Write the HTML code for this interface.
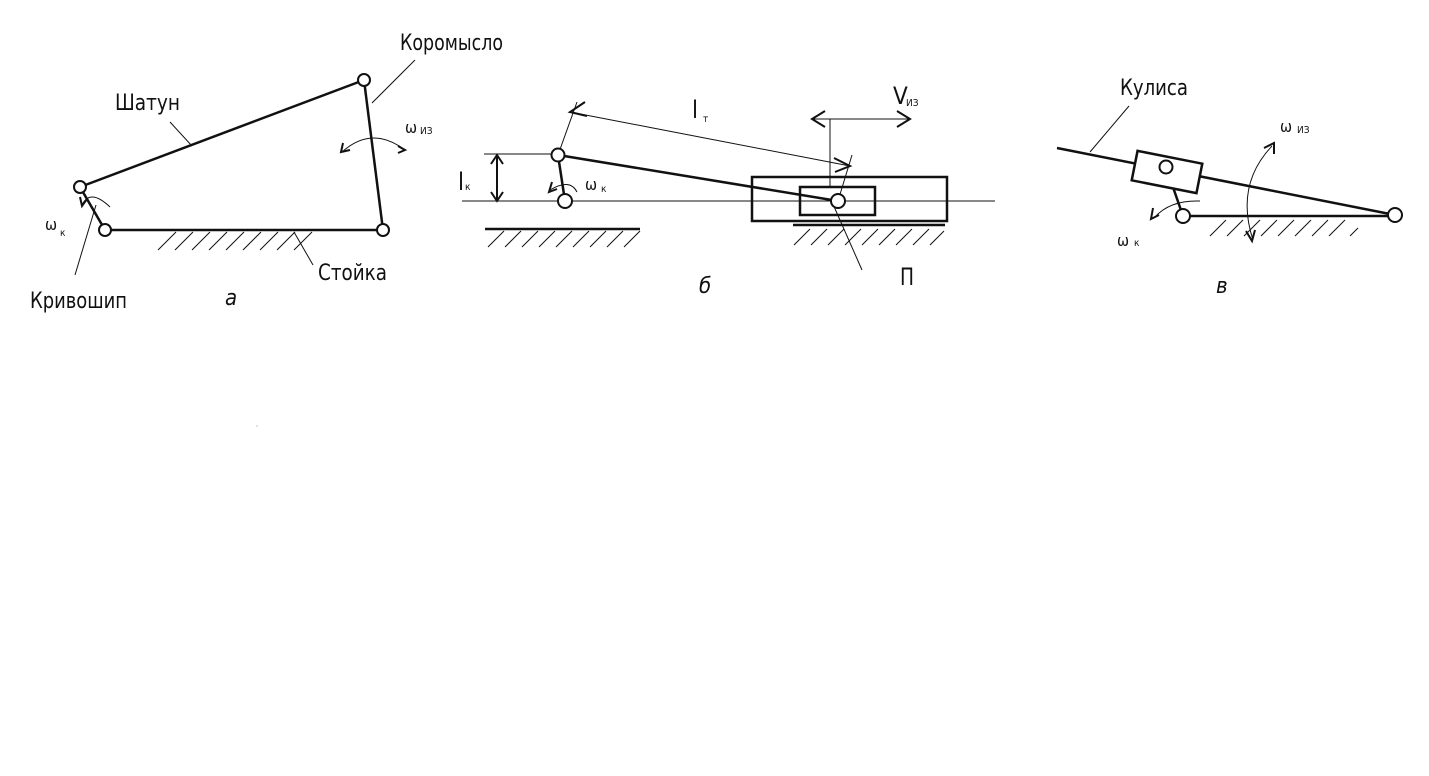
<!DOCTYPE html>
<html><head><meta charset="utf-8"><style>
body{margin:0;background:#fff;width:1429px;height:771px;overflow:hidden}
svg text{font-family:"DejaVu Sans Condensed","Liberation Sans Narrow","Liberation Sans",sans-serif;fill:#111}
</style></head><body>
<svg width="1429" height="771" viewBox="0 0 1429 771" xmlns="http://www.w3.org/2000/svg">
<g stroke="#111" fill="none" stroke-width="2.5">
<line x1="105" y1="230" x2="383" y2="230"/>
<line x1="80" y1="187" x2="364" y2="80"/>
<line x1="364" y1="80" x2="383" y2="230"/>
<line x1="80" y1="187" x2="105" y2="230"/>
</g>
<g stroke="#111" fill="none" stroke-width="1">
<path d="M158,250 l18,-18 M175,250 l18,-18 M192,250 l18,-18 M209,250 l18,-18 M226,250 l18,-18 M243,250 l18,-18 M260,250 l18,-18 M277,250 l18,-18 M294,250 l18,-18"/>
<line x1="415" y1="60" x2="372" y2="103"/>
<line x1="170" y1="122" x2="192" y2="146"/>
<line x1="75" y1="275" x2="96" y2="205"/>
<line x1="313" y1="265" x2="294" y2="232"/>
<path d="M342,152 Q372,125 405,150"/>
<path d="M82,205 Q90,188 110,207"/>
</g>
<g stroke="#111" fill="none" stroke-width="2">
<path d="M343,143 l-2,9 l9,-2"/>
<path d="M398,146 l7,4 l-7,3"/>
<path d="M80,197 l2,9 l5,-7"/>
</g>
<g fill="#fff" stroke="#111" stroke-width="2">
<circle cx="105" cy="230" r="6"/><circle cx="80" cy="187" r="6"/>
<circle cx="364" cy="80" r="6"/><circle cx="383" cy="230" r="6"/>
</g>
<text x="400" y="50" font-size="22" textLength="103" lengthAdjust="spacingAndGlyphs">Коромысло</text>
<text x="115" y="110" font-size="22" textLength="65" lengthAdjust="spacingAndGlyphs">Шатун</text>
<text x="405" y="133" font-size="16" font-family="Liberation Serif">ω</text><text x="420" y="134" font-size="10">ИЗ</text>
<text x="45" y="230" font-size="16" font-family="Liberation Serif">ω</text><text x="60" y="236" font-size="10">к</text>
<text x="318" y="280" font-size="22" textLength="69" lengthAdjust="spacingAndGlyphs">Стойка</text>
<text x="30" y="308" font-size="22" textLength="97" lengthAdjust="spacingAndGlyphs">Кривошип</text>
<text x="225" y="305" font-size="22" font-style="italic" font-family="Liberation Serif">a</text>

<g stroke="#111" fill="none" stroke-width="1">
<line x1="462" y1="201" x2="995" y2="201"/>
<line x1="484" y1="154" x2="558" y2="154"/>
<line x1="558" y1="155" x2="577" y2="102"/>
<line x1="838" y1="201" x2="852" y2="155"/>
<line x1="570" y1="112" x2="850" y2="166"/>
<line x1="812" y1="119" x2="910" y2="119"/>
<line x1="830" y1="119" x2="830" y2="187"/>
<line x1="832" y1="202" x2="862" y2="270"/>
<path d="M488,247 l16,-16 M505,247 l16,-16 M522,247 l16,-16 M539,247 l16,-16 M556,247 l16,-16 M573,247 l16,-16 M590,247 l16,-16 M607,247 l16,-16 M624,247 l16,-16"/>
<path d="M794,245 l16,-16 M811,245 l16,-16 M828,245 l16,-16 M845,245 l16,-16 M862,245 l16,-16 M879,245 l16,-16 M896,245 l16,-16 M913,245 l16,-16 M930,245 l14,-14"/>
<path d="M550,190 Q570,178 577,192"/>
</g>
<g stroke="#111" fill="none" stroke-width="2">
<line x1="497" y1="156" x2="497" y2="200"/>
<path d="M491,164 l6,-9 l6,9 M491,192 l6,9 l6,-9"/>
<path d="M585,102 l-15,10 l17,4"/>
<path d="M834,158 l16,8 l-15,6"/>
<path d="M825,111 l-13,8 l13,8 M897,111 l13,8 l-13,8"/>
<path d="M552,182 l-3,10 l8,-3"/>
</g>
<g stroke="#111" fill="none" stroke-width="2.5">
<line x1="485" y1="229" x2="640" y2="229"/>
<line x1="793" y1="225" x2="945" y2="225"/>
<rect x="752" y="177" width="195" height="44"/>
<rect x="800" y="187" width="75" height="28"/>
<line x1="558" y1="155" x2="838" y2="201"/>
<line x1="558" y1="155" x2="565" y2="201"/>
</g>
<g fill="#fff" stroke="#111" stroke-width="2">
<circle cx="558" cy="155" r="6.5"/><circle cx="565" cy="201" r="7"/><circle cx="838" cy="201" r="7"/>
</g>
<text x="458" y="190" font-size="24">l</text><text x="465" y="190" font-size="10">к</text>
<text x="692" y="118" font-size="24">l</text><text x="703" y="122" font-size="10">т</text>
<text x="893" y="104" font-size="24">V</text><text x="906" y="106" font-size="10">ИЗ</text>
<text x="585" y="190" font-size="16" font-family="Liberation Serif">ω</text><text x="601" y="192" font-size="10">к</text>
<text x="900" y="285" font-size="24" textLength="14" lengthAdjust="spacingAndGlyphs">П</text>
<text x="699" y="293" font-size="22" font-style="italic" font-family="Liberation Serif">б</text>

<g stroke="#111" fill="none" stroke-width="2.5">
<line x1="1057" y1="148" x2="1395" y2="215"/>
<line x1="1183" y1="216" x2="1395" y2="216"/>
<line x1="1166" y1="167" x2="1183" y2="216"/>
<g transform="rotate(11.2 1167 172)"><rect x="1134" y="157" width="66" height="30" fill="#fff"/></g>
</g>
<g stroke="#111" fill="none" stroke-width="1">
<line x1="1129" y1="106" x2="1090" y2="152"/>
<path d="M1210,236 l16,-16 M1227,236 l16,-16 M1244,236 l16,-16 M1261,236 l16,-16 M1278,236 l16,-16 M1295,236 l16,-16 M1312,236 l16,-16 M1329,236 l16,-16 M1350,236 l8,-8"/>
<path d="M1272,146 Q1235,185 1253,240"/>
<path d="M1155,217 Q1170,200 1200,201"/>
</g>
<g stroke="#111" fill="none" stroke-width="2">
<path d="M1264,148 l10,-5 l0,11"/>
<path d="M1246,231 l6,10 l3,-11"/>
<path d="M1153,208 l-2,11 l8,-4"/>
</g>
<g fill="#fff" stroke="#111" stroke-width="2">
<circle cx="1166" cy="167" r="6.5"/><circle cx="1183" cy="216" r="7"/><circle cx="1395" cy="215" r="7"/>
</g>
<text x="1120" y="95" font-size="22" textLength="68" lengthAdjust="spacingAndGlyphs">Кулиса</text>
<text x="1280" y="132" font-size="16" font-family="Liberation Serif">ω</text><text x="1297" y="133" font-size="10">ИЗ</text>
<text x="1117" y="246" font-size="16" font-family="Liberation Serif">ω</text><text x="1134" y="246" font-size="10">к</text>
<text x="1216" y="293" font-size="22" font-style="italic" font-family="Liberation Serif">в</text>
<circle cx="257" cy="426" r="0.6" fill="#999"/>
</svg>
</body></html>
